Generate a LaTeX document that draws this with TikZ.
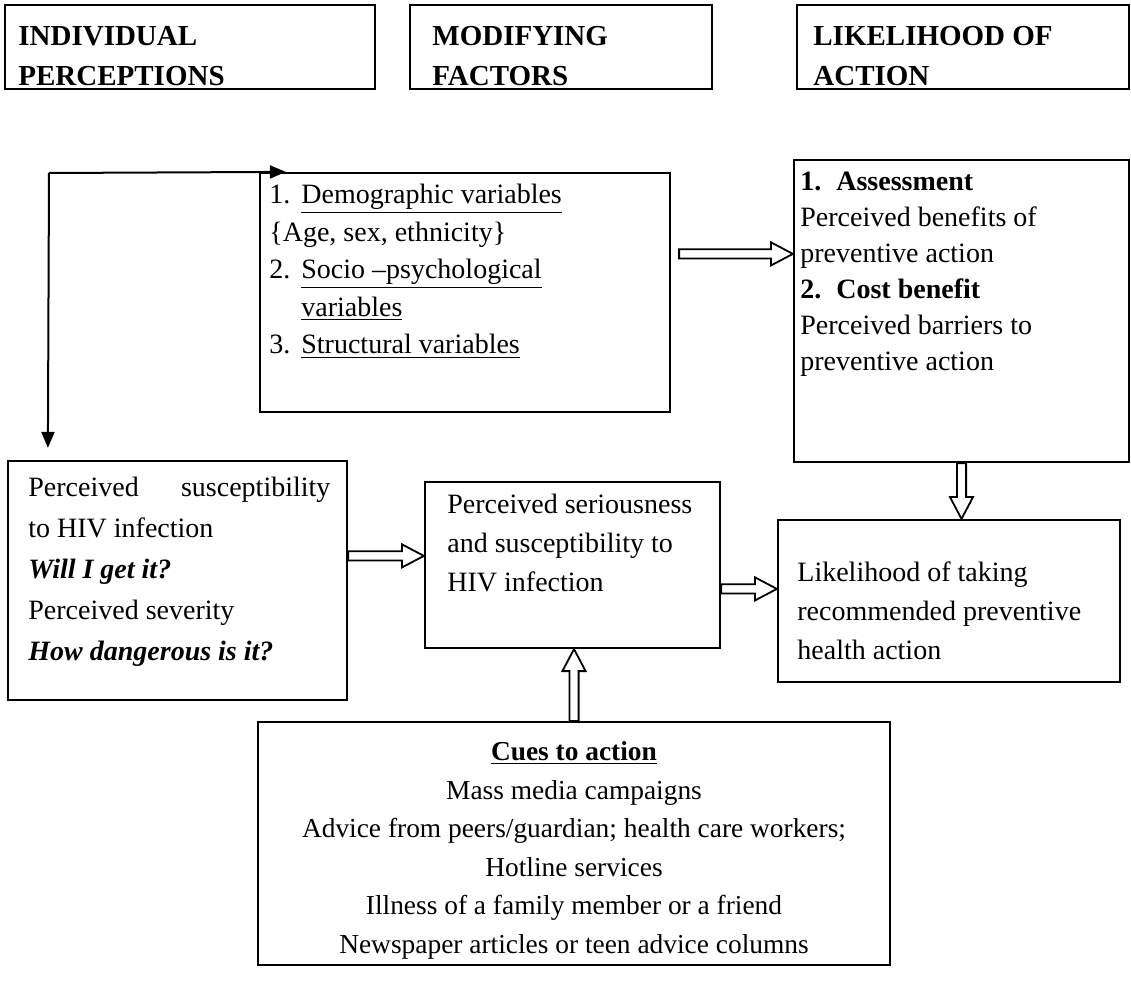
\documentclass[tikz,border=0pt]{standalone}
\usepackage{fontspec}
\setmainfont{Liberation Serif}
\usepackage{tikz}
\usetikzlibrary{positioning,calc,fit,arrows.meta}

\begin{document}
\begin{tikzpicture}[
    x=0.5pt, y=-0.5pt,
    box/.style={draw, line width=1.1pt, inner sep=0pt},
    head/.style={anchor=north west, inner sep=0pt, align=left, font=\fontsize{14.5}{20}\selectfont\bfseries},
    body/.style={anchor=north west, inner sep=0pt, align=left, font=\fontsize{14}{19}\selectfont},
    link/.style={line width=1pt, -{Triangle[length=8pt, width=6.5pt]}},
    hollow/.style={draw, line width=0.9pt, fill=white, to path={
        let \p1=(\tikztostart), \p2=(\tikztotarget),
            \n1={atan2(\y2-\y1,\x2-\x1)}, \n2={veclen(\x2-\x1,\y2-\y1)} in
        ([shift={(\p1)}, rotate=\n1] 0pt, 2.3pt)
        -- ([shift={(\p1)}, rotate=\n1] \n2-11pt, 2.3pt)
        -- ([shift={(\p1)}, rotate=\n1] \n2-11pt, 5.8pt)
        -- ([shift={(\p1)}, rotate=\n1] \n2-0pt, 0pt)
        -- ([shift={(\p1)}, rotate=\n1] \n2-11pt, -5.8pt)
        -- ([shift={(\p1)}, rotate=\n1] \n2-11pt, -2.3pt)
        -- ([shift={(\p1)}, rotate=\n1] 0pt, -2.3pt) -- cycle}}
]
\useasboundingbox (0,0) rectangle (1131,985);

% Column headings
\node[box, fit={(5,5) (375,89)}] (hindiv) {};
\node[head] (hindivtxt) at (18,26) {INDIVIDUAL\\PERCEPTIONS};
\node[box, fit={(410,5) (712,89)}] (hmod) {};
\node[head] (hmodtxt) at (432,26) {MODIFYING\\FACTORS};
\node[box, fit={(797,5) (1129,89)}] (hlike) {};
\node[head] (hliketxt) at (813,26) {LIKELIHOOD OF\\ACTION};

% Modifying factors
\node[box, fit={(260,173) (670,412)}] (demo) {};
\node[body, font=\fontsize{14}{18.75}\selectfont] (demotxt) at (269,184) {%
    \makebox[16pt][l]{1.}\underline{Demographic variables}\\
    \{Age, sex, ethnicity\}\\
    \makebox[16pt][l]{2.}\underline{Socio –psychological}\\
    \hspace*{16pt}\underline{variables}\\
    \makebox[16pt][l]{3.}\underline{Structural variables}};

% Assessment
\node[box, fit={(794,160) (1129,462)}] (assess) {};
\node[body, font=\fontsize{14}{18}\selectfont] (assesstxt) at (800,172) {%
    \textbf{\makebox[18pt][l]{1.}Assessment}\\
    Perceived benefits of\\
    preventive action\\
    \textbf{\makebox[18pt][l]{2.}Cost benefit}\\
    Perceived barriers to\\
    preventive action};

% Individual perceptions
\node[box, fit={(8,461) (347,700)}] (susc) {};
\node[body, font=\fontsize{14}{20.5}\selectfont] (susctxt) at (28,477) {%
    \makebox[151pt][l]{Perceived\hfill susceptibility}\\
    to HIV infection\\
    \textbf{\textit{Will I get it?}}\\
    Perceived severity\\
    \textbf{\textit{How dangerous is it?}}};

\node[box, fit={(425,482) (720,648)}] (serious) {};
\node[body, font=\fontsize{14}{19.5}\selectfont] (serioustxt) at (447,494) {%
    Perceived seriousness\\
    and susceptibility to\\
    HIV infection};

% Likelihood of action
\node[box, fit={(778,520) (1120,682)}] (likely) {};
\node[body, font=\fontsize{14}{19.5}\selectfont] (likelytxt) at (797,561) {%
    Likelihood of taking\\
    recommended preventive\\
    health action};

% Cues to action
\node[box, fit={(258,722) (890,965)}] (cues) {};
\node[body, anchor=north, align=center, font=\fontsize{13.7}{19.3}\selectfont] (cuestxt) at (574,741) {%
    \textbf{\underline{Cues to action}}\\
    Mass media campaigns\\
    Advice from peers/guardian; health care workers;\\
    Hotline services\\
    Illness of a family member or a friend\\
    Newspaper articles or teen advice columns};

% Connectors
\coordinate (split) at (49,173);
\coordinate (demotip) at ($(demo.north west)+(27,0)$);
\coordinate (susctip) at ($(susc.north west)+(41,-12)$);
\draw[link] (split) -- (demotip);
\draw[link] (split) -- (susctip);

\coordinate (demoout) at ($(demo.north east)+(8,82)$);
\coordinate (suscout) at ($(susc.north east)+(0,96)$);
\coordinate (seriousout) at ($(serious.north east)+(0,108)$);
\draw[hollow] (demoout) to (assess.west |- demoout);
\draw[hollow] (assess.south) to (assess.south |- likely.north);
\draw[hollow] (suscout) to (serious.west |- suscout);
\draw[hollow] (seriousout) to (likely.west |- seriousout);
\draw[hollow] (cues.north) to (cues.north |- serious.south);

\end{tikzpicture}
\end{document}
